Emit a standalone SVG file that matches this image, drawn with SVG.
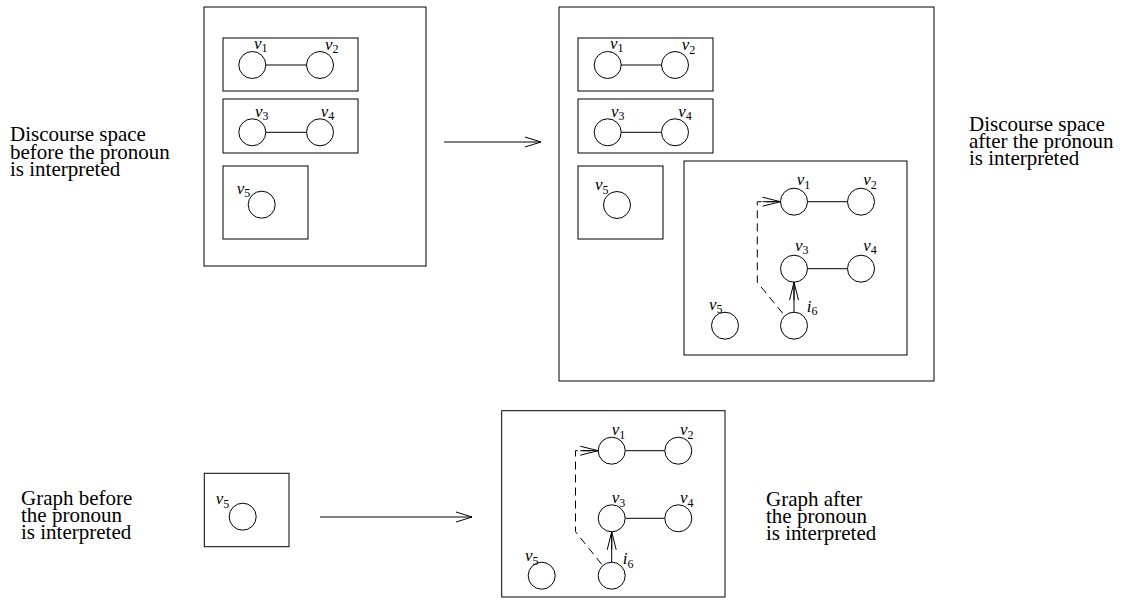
<svg xmlns="http://www.w3.org/2000/svg" width="1122" height="605" viewBox="0 0 1122 605">
<style>
.box{fill:none;stroke:#000;stroke-width:1}
.nd{fill:#fff;stroke:#000;stroke-width:1}
.ed{stroke:#000;stroke-width:1;fill:none}
.dash{stroke:#000;stroke-width:1;fill:none;stroke-dasharray:8 5}
.lbl{font-family:"Liberation Serif",serif;font-style:italic;font-size:17px;fill:#000}
.sub{font-style:normal;font-size:12px}
.txt{font-family:"Liberation Serif",serif;font-size:21px;fill:#000}
</style>
<defs>
<marker id="stick" viewBox="-17 -6 18 12" refX="0" refY="0" markerWidth="18" markerHeight="12" markerUnits="userSpaceOnUse" orient="auto">
<path d="M-16,-5 L0,0 L-16,5" fill="none" stroke="#000" stroke-width="1"/>
</marker>
<marker id="stick2" viewBox="-19 -6 20 12" refX="0" refY="0" markerWidth="20" markerHeight="12" markerUnits="userSpaceOnUse" orient="auto">
<path d="M-18,-4.5 L0,0 L-18,4.5 M-18,0 L0,0" fill="none" stroke="#000" stroke-width="1"/>
</marker>
</defs>

<!-- Texts -->
<g id="txt-before">
<text class="txt" x="10" y="141">Discourse space</text>
<text class="txt" x="10" y="158.5">before the pronoun</text>
<text class="txt" x="10" y="176">is interpreted</text>
</g>
<g id="txt-after">
<text class="txt" x="969" y="131">Discourse space</text>
<text class="txt" x="969" y="148">after the pronoun</text>
<text class="txt" x="969" y="165">is interpreted</text>
</g>
<g id="txt-graph-before">
<text class="txt" x="21" y="505">Graph before</text>
<text class="txt" x="21" y="522">the pronoun</text>
<text class="txt" x="21" y="539">is interpreted</text>
</g>
<g id="txt-graph-after">
<text class="txt" x="766" y="506">Graph after</text>
<text class="txt" x="766" y="523">the pronoun</text>
<text class="txt" x="766" y="540">is interpreted</text>
</g>

<!-- Top-left discourse space -->
<g id="ds-before">
<rect class="box" x="204" y="7" width="222" height="259"/>
<rect class="box" x="223" y="38" width="135" height="53"/>
<rect class="box" x="223" y="99" width="135" height="54"/>
<rect class="box" x="223" y="166" width="85" height="73"/>
<line class="ed" x1="266" y1="65" x2="306" y2="65"/>
<line class="ed" x1="266" y1="132.3" x2="306" y2="132.3"/>
<circle class="nd" cx="252.3" cy="65" r="13.5"/>
<circle class="nd" cx="320" cy="65" r="13.5"/>
<circle class="nd" cx="252.3" cy="132.3" r="13.5"/>
<circle class="nd" cx="320" cy="132.3" r="13.5"/>
<circle class="nd" cx="261.7" cy="204.7" r="13.5"/>
<text class="lbl" x="254" y="48.5">v<tspan class="sub" dy="3.5">1</tspan></text>
<text class="lbl" x="325" y="49.5">v<tspan class="sub" dy="3.5">2</tspan></text>
<text class="lbl" x="255" y="116.7">v<tspan class="sub" dy="3.5">3</tspan></text>
<text class="lbl" x="320.7" y="116.7">v<tspan class="sub" dy="3.5">4</tspan></text>
<text class="lbl" x="236.7" y="193.5">v<tspan class="sub" dy="3.5">5</tspan></text>
</g>

<!-- Top-right discourse space -->
<g id="ds-after">
<rect class="box" x="559" y="7" width="375" height="374"/>
<rect class="box" x="578" y="38" width="135" height="53"/>
<rect class="box" x="578" y="99" width="135" height="54"/>
<rect class="box" x="578" y="166" width="85" height="73"/>
<rect class="box" x="684" y="161" width="223" height="194"/>
<line class="ed" x1="621" y1="65" x2="661" y2="65"/>
<line class="ed" x1="621" y1="132.3" x2="661" y2="132.3"/>
<circle class="nd" cx="607.7" cy="65" r="13.5"/>
<circle class="nd" cx="675" cy="65" r="13.5"/>
<circle class="nd" cx="607.7" cy="132.3" r="13.5"/>
<circle class="nd" cx="675" cy="132.3" r="13.5"/>
<circle class="nd" cx="617" cy="205" r="13.5"/>
<text class="lbl" x="610" y="48.5">v<tspan class="sub" dy="3.5">1</tspan></text>
<text class="lbl" x="681.7" y="50">v<tspan class="sub" dy="3.5">2</tspan></text>
<text class="lbl" x="611" y="116.7">v<tspan class="sub" dy="3.5">3</tspan></text>
<text class="lbl" x="678.3" y="116.7">v<tspan class="sub" dy="3.5">4</tspan></text>
<text class="lbl" x="595" y="190">v<tspan class="sub" dy="3.5">5</tspan></text>
</g>

<!-- Inner graph (top right) -->
<g id="g-after-top">
<line class="ed" x1="807.5" y1="201.7" x2="847.5" y2="201.7"/>
<line class="ed" x1="807.5" y1="268.7" x2="847.5" y2="268.7"/>
<circle class="nd" cx="794" cy="201.7" r="13.5"/>
<circle class="nd" cx="861" cy="201.7" r="13.5"/>
<circle class="nd" cx="794" cy="268.7" r="13.5"/>
<circle class="nd" cx="861" cy="268.7" r="13.5"/>
<circle class="nd" cx="725" cy="325.7" r="13.5"/>
<circle class="nd" cx="794" cy="325.7" r="13.5"/>
<text class="lbl" x="796.7" y="185">v<tspan class="sub" dy="3.5">1</tspan></text>
<text class="lbl" x="863.3" y="185">v<tspan class="sub" dy="3.5">2</tspan></text>
<text class="lbl" x="795" y="250.5">v<tspan class="sub" dy="3.5">3</tspan></text>
<text class="lbl" x="863.3" y="250.7">v<tspan class="sub" dy="3.5">4</tspan></text>
<text class="lbl" x="709" y="309.5">v<tspan class="sub" dy="3.5">5</tspan></text>
<text class="lbl" x="806.7" y="311.7">i<tspan class="sub" dy="3.5">6</tspan></text>
</g>

<!-- Bottom-left graph -->
<g id="g-before">
<rect class="box" x="204.3" y="473.3" width="84.7" height="73.4"/>
<circle class="nd" cx="242.7" cy="516.7" r="13.5"/>
<text class="lbl" x="215.7" y="504.3">v<tspan class="sub" dy="3.5">5</tspan></text>
</g>

<!-- Bottom-right graph -->
<g id="g-after">
<rect class="box" x="501.7" y="410.7" width="223.3" height="186.3"/>
<line class="ed" x1="625.2" y1="450.7" x2="664.8" y2="450.7"/>
<line class="ed" x1="625.2" y1="518.3" x2="664.8" y2="518.3"/>
<circle class="nd" cx="611.7" cy="450.7" r="13.5"/>
<circle class="nd" cx="678.3" cy="450.7" r="13.5"/>
<circle class="nd" cx="611.7" cy="518.3" r="13.5"/>
<circle class="nd" cx="678.3" cy="518.3" r="13.5"/>
<circle class="nd" cx="541.7" cy="575.7" r="13.5"/>
<circle class="nd" cx="611.7" cy="575.7" r="13.5"/>
<text class="lbl" x="611.7" y="435">v<tspan class="sub" dy="3.5">1</tspan></text>
<text class="lbl" x="680" y="435">v<tspan class="sub" dy="3.5">2</tspan></text>
<text class="lbl" x="611.7" y="503.3">v<tspan class="sub" dy="3.5">3</tspan></text>
<text class="lbl" x="680" y="503.3">v<tspan class="sub" dy="3.5">4</tspan></text>
<text class="lbl" x="525" y="561">v<tspan class="sub" dy="3.5">5</tspan></text>
<text class="lbl" x="622.7" y="564.3">i<tspan class="sub" dy="3.5">6</tspan></text>
</g>

<!-- Connectors -->
<g id="connectors">
<line class="ed" x1="444" y1="142" x2="541" y2="142" marker-end="url(#stick)"/>
<line class="ed" x1="320" y1="517" x2="472" y2="517" marker-end="url(#stick)"/>
<path class="dash" d="M782.7,313.3 L757.3,282.3 L757.3,201.7 L780.5,201.7" marker-end="url(#stick2)"/>
<line class="ed" x1="794" y1="312.2" x2="794" y2="282.2" marker-end="url(#stick2)"/>
<path class="dash" d="M601.7,564.3 L575.5,531.7 L575.5,450.7 L598.2,450.7" marker-end="url(#stick2)"/>
<line class="ed" x1="611.7" y1="562.2" x2="611.7" y2="531.8" marker-end="url(#stick2)"/>
</g>
</svg>
